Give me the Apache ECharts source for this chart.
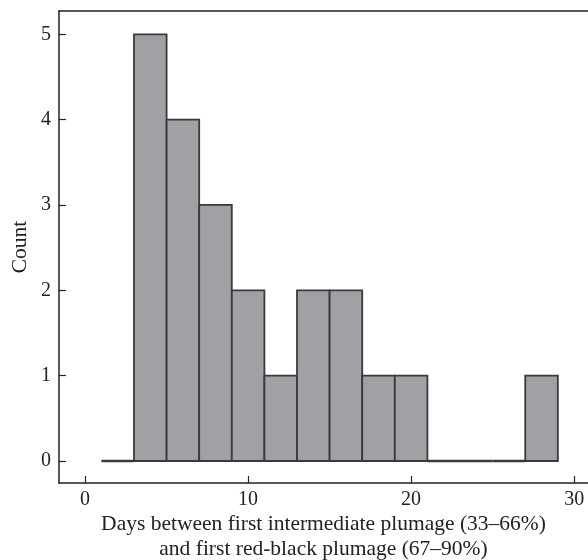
<!DOCTYPE html>
<html>
<head>
<meta charset="utf-8">
<script src="https://cdn.jsdelivr.net/npm/echarts@6/dist/echarts.min.js"></script>
<style>
    html, body {margin: 0; padding: 0; background: #fff;}
    #chart {width: 588px; height: 560px;}
</style>
</head>
<body>
<div id="chart"></div>
<script>
// histogram bins: left edge of each 2-day bin and its count
const binStarts = [1, 3, 5, 7, 9, 11, 13, 15, 17, 19, 21, 23, 25, 27];
const binWidth = 2;
const counts = [0, 5, 4, 3, 2, 1, 2, 2, 1, 1, 0, 0, 0, 1];
const xTicks = [0, 10, 20, 30];
const yTicks = [0, 1, 2, 3, 4, 5];

const font = 'Liberation Serif';
const ink = '#222';

const chart = echarts.init(document.getElementById('chart'));
chart.setOption({
    animation: false,
    grid: {left: 59, top: 11, right: 0, bottom: 77, outerBoundsMode: 'none', containLabel: false},
    xAxis: [
        {
            type: 'value',
            min: -1.6,
            max: 30.85,
            name: 'Days between first intermediate plumage (33–66%)\nand first red-black plumage (67–90%)',
            nameLocation: 'middle',
            nameGap: 29,
            nameMoveOverlap: false,
            nameTextStyle: {fontFamily: font, fontSize: 21.5, color: ink, lineHeight: 25},
            axisLine: {onZero: false, lineStyle: {color: ink, width: 1.5}},
            axisTick: {inside: true, length: 7, customValues: xTicks, lineStyle: {color: ink, width: 1.2}},
            axisLabel: {customValues: xTicks, fontFamily: font, fontSize: 20, color: ink, margin: 7},
            splitLine: {show: false}
        },
        {
            type: 'value',
            position: 'top',
            min: -1.6,
            max: 30.85,
            axisLine: {show: true, onZero: false, lineStyle: {color: ink, width: 1.5}},
            axisTick: {show: false},
            axisLabel: {show: false},
            splitLine: {show: false}
        }
    ],
    yAxis: {
        type: 'value',
        min: -0.258,
        max: 5.273,
        name: 'Count',
        nameLocation: 'middle',
        nameGap: 28,
        nameMoveOverlap: false,
        nameTextStyle: {fontFamily: font, fontSize: 21.5, color: ink},
        axisLine: {show: true, onZero: false, lineStyle: {color: ink, width: 1.5}},
        axisTick: {show: true, inside: true, length: 7, customValues: yTicks, lineStyle: {color: ink, width: 1.2}},
        axisLabel: {customValues: yTicks, fontFamily: font, fontSize: 20, color: ink, margin: 8},
        splitLine: {show: false}
    },
    series: [
        {
            type: 'custom',
            data: binStarts.map((s, i) => [s, s + binWidth, counts[i]]),
            renderItem(params, api) {
                const p0 = api.coord([api.value(0), 0]);
                const p1 = api.coord([api.value(1), api.value(2)]);
                return {
                    type: 'rect',
                    shape: {x: p0[0], y: p1[1], width: p1[0] - p0[0], height: p0[1] - p1[1]},
                    style: {fill: '#a0a1a5', stroke: '#3a3a3a', lineWidth: api.value(2) ? 1.8 : 2.6}
                };
            }
        }
    ]
});
</script>
</body>
</html>
